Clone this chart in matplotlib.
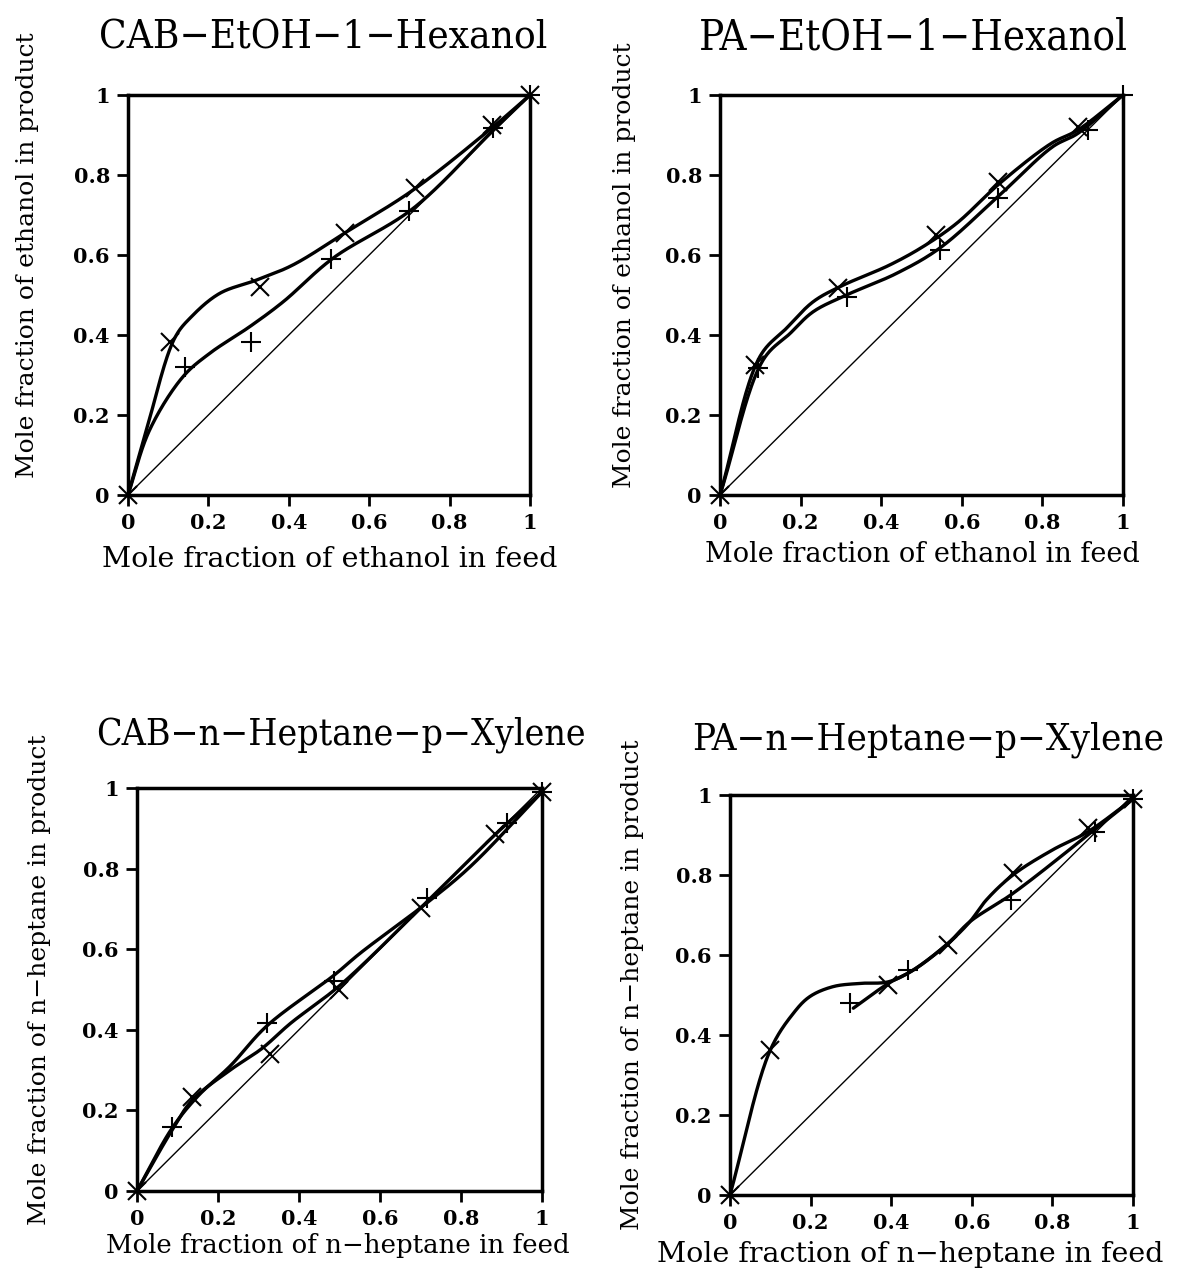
import numpy as np
import matplotlib
matplotlib.use("Agg")
import matplotlib.pyplot as plt

# ---------------- data ----------------
# Panel 1: CAB-EtOH-1-Hexanol
cab_etoh_x_series_feed = [0.0, 0.104, 0.328, 0.54, 0.714, 0.905, 1.0]
cab_etoh_x_series_prod = [0.0, 0.383, 0.52, 0.654, 0.767, 0.925, 1.0]
cab_etoh_p_series_feed = [0.141, 0.307, 0.506, 0.70, 0.909, 1.0]
cab_etoh_p_series_prod = [0.32, 0.383, 0.59, 0.71, 0.917, 1.0]
cab_etoh_fitA_x = [0.0, 0.046, 0.116, 0.158, 0.228, 0.32, 0.41, 0.544, 0.71, 0.909, 1.0]
cab_etoh_fitA_y = [0.0, 0.163, 0.392, 0.446, 0.504, 0.5375, 0.575, 0.658, 0.763, 0.921, 1.0]
cab_etoh_fitB_x = [0.0, 0.054, 0.137, 0.203, 0.303, 0.386, 0.51, 0.71, 0.909, 1.0]
cab_etoh_fitB_y = [0.0, 0.163, 0.296, 0.354, 0.421, 0.483, 0.592, 0.717, 0.9125, 1.0]

# Panel 2: PA-EtOH-1-Hexanol
pa_etoh_x_series_feed = [0.0, 0.087, 0.293, 0.537, 0.69, 0.888]
pa_etoh_x_series_prod = [0.0, 0.325, 0.517, 0.65, 0.783, 0.921]
pa_etoh_p_series_feed = [0.095, 0.314, 0.545, 0.69, 0.913, 1.0]
pa_etoh_p_series_prod = [0.317, 0.496, 0.6125, 0.742, 0.9125, 1.0]
pa_etoh_fitA_x = [0.0, 0.099, 0.165, 0.231, 0.298, 0.421, 0.504, 0.587, 0.694, 0.822, 0.888, 1.0]
pa_etoh_fitA_y = [0.0, 0.346, 0.417, 0.483, 0.521, 0.575, 0.621, 0.679, 0.779, 0.879, 0.9125, 1.0]
pa_etoh_fitB_x = [0.0, 0.107, 0.174, 0.231, 0.314, 0.438, 0.545, 0.694, 0.826, 0.888, 1.0]
pa_etoh_fitB_y = [0.0, 0.3375, 0.404, 0.458, 0.50, 0.554, 0.617, 0.75, 0.871, 0.904, 1.0]

# Panel 3: CAB-n-Heptane-p-Xylene
cab_hep_x_series_feed = [0.0, 0.136, 0.329, 0.498, 0.70, 0.885, 1.0]
cab_hep_x_series_prod = [0.0, 0.234, 0.34, 0.50, 0.703, 0.885, 0.99]
cab_hep_p_series_feed = [0.086, 0.321, 0.486, 0.716, 0.914, 1.0]
cab_hep_p_series_prod = [0.16, 0.416, 0.52, 0.727, 0.913, 0.99]
cab_hep_fitA_x = [0.0, 0.086, 0.136, 0.23, 0.309, 0.379, 0.502, 0.716, 0.885, 1.0]
cab_hep_fitA_y = [0.0, 0.15, 0.225, 0.30, 0.354, 0.416, 0.511, 0.718, 0.885, 0.99]
cab_hep_fitB_x = [0.0, 0.086, 0.15, 0.23, 0.321, 0.486, 0.551, 0.716, 0.823, 1.0]
cab_hep_fitB_y = [0.0, 0.155, 0.235, 0.31, 0.41, 0.535, 0.59, 0.715, 0.805, 0.99]

# Panel 4: PA-n-Heptane-p-Xylene
pa_hep_x_series_feed = [0.0, 0.099, 0.393, 0.541, 0.702, 0.888, 1.0]
pa_hep_x_series_prod = [0.0, 0.3625, 0.525, 0.625, 0.804, 0.917, 0.99]
pa_hep_p_series_feed = [0.298, 0.442, 0.698, 0.905, 1.0]
pa_hep_p_series_prod = [0.479, 0.5625, 0.7375, 0.908, 0.99]
pa_hep_fitA_x = [0.0, 0.099, 0.157, 0.198, 0.256, 0.322, 0.393, 0.455, 0.541, 0.595, 0.636, 0.702, 0.80, 0.888, 1.0]
pa_hep_fitA_y = [0.0, 0.36, 0.454, 0.496, 0.521, 0.529, 0.533, 0.5625, 0.629, 0.683, 0.7375, 0.80, 0.8625, 0.908, 0.99]
pa_hep_fitB_x = [0.306, 0.393, 0.455, 0.541, 0.595, 0.702, 0.893, 1.0]
pa_hep_fitB_y = [0.467, 0.529, 0.5625, 0.629, 0.683, 0.754, 0.904, 0.99]

tick_vals = [0, 0.2, 0.4, 0.6, 0.8, 1]
tick_labels = ["0", "0.2", "0.4", "0.6", "0.8", "1"]

titles = ["CAB\u2212EtOH\u22121\u2212Hexanol", "PA\u2212EtOH\u22121\u2212Hexanol",
          "CAB\u2212n\u2212Heptane\u2212p\u2212Xylene", "PA\u2212n\u2212Heptane\u2212p\u2212Xylene"]
xlabels = ["Mole fraction of ethanol in feed", "Mole fraction of ethanol in feed",
           "Mole fraction of n\u2212heptane in feed", "Mole fraction of n\u2212heptane in feed"]
ylabels = ["Mole fraction of ethanol in product", "Mole fraction of ethanol in product",
           "Mole fraction of n\u2212heptane in product", "Mole fraction of n\u2212heptane in product"]


def smooth(xs, ys, n=40, alpha=0.5):
    """Centripetal Catmull-Rom spline through knots (rendering only)."""
    p = np.column_stack([xs, ys]).astype(float)
    p = np.vstack([2 * p[0] - p[1], p, 2 * p[-1] - p[-2]])
    out = []
    for i in range(1, len(p) - 2):
        P0, P1, P2, P3 = p[i - 1], p[i], p[i + 1], p[i + 2]
        t0 = 0.0
        t1 = t0 + max(np.linalg.norm(P1 - P0), 1e-9) ** alpha
        t2 = t1 + max(np.linalg.norm(P2 - P1), 1e-9) ** alpha
        t3 = t2 + max(np.linalg.norm(P3 - P2), 1e-9) ** alpha
        t = np.linspace(t1, t2, n, endpoint=False)[:, None]
        A1 = (t1 - t) / (t1 - t0) * P0 + (t - t0) / (t1 - t0) * P1
        A2 = (t2 - t) / (t2 - t1) * P1 + (t - t1) / (t2 - t1) * P2
        A3 = (t3 - t) / (t3 - t2) * P2 + (t - t2) / (t3 - t2) * P3
        B1 = (t2 - t) / (t2 - t0) * A1 + (t - t0) / (t2 - t0) * A2
        B2 = (t3 - t) / (t3 - t1) * A2 + (t - t1) / (t3 - t1) * A3
        C = (t2 - t) / (t2 - t1) * B1 + (t - t1) / (t2 - t1) * B2
        out.append(C)
    out.append(p[-2][None, :])
    out = np.vstack(out)
    return out[:, 0], out[:, 1]


W, H = 1177, 1273
fig = plt.figure(figsize=(W / 100, H / 100), dpi=100)

# axes boxes in pixels: left, right, top, bottom
boxes = [(128, 530, 95, 495), (720, 1123, 95, 495), (137, 542, 788, 1191), (730, 1133, 795, 1195)]

panels = [
    (cab_etoh_x_series_feed, cab_etoh_x_series_prod, cab_etoh_p_series_feed, cab_etoh_p_series_prod,
     cab_etoh_fitA_x, cab_etoh_fitA_y, cab_etoh_fitB_x, cab_etoh_fitB_y),
    (pa_etoh_x_series_feed, pa_etoh_x_series_prod, pa_etoh_p_series_feed, pa_etoh_p_series_prod,
     pa_etoh_fitA_x, pa_etoh_fitA_y, pa_etoh_fitB_x, pa_etoh_fitB_y),
    (cab_hep_x_series_feed, cab_hep_x_series_prod, cab_hep_p_series_feed, cab_hep_p_series_prod,
     cab_hep_fitA_x, cab_hep_fitA_y, cab_hep_fitB_x, cab_hep_fitB_y),
    (pa_hep_x_series_feed, pa_hep_x_series_prod, pa_hep_p_series_feed, pa_hep_p_series_prod,
     pa_hep_fitA_x, pa_hep_fitA_y, pa_hep_fitB_x, pa_hep_fitB_y),
]

title_pos = [(323, 38), (913, 38), (341, 735), (928, 740)]
title_size = [29, 30, 26.8, 27.5]
xlabel_y = [560, 555, 1245, 1255]
xlabel_x = [330, 922, 338, 910]
xlabel_size = [20.5, 19.5, 18.7, 20.5]
ylabel_x = [28, 625, 40, 632]
ylabel_c = [255, 265, 980, 985]

serif = ["DejaVu Serif"]

for i, (box, pdata) in enumerate(zip(boxes, panels)):
    l, r, t, b = box
    ax = fig.add_axes([l / W, 1 - b / H, (r - l) / W, (b - t) / H])
    xf, xp, pf, pp, ax_, ay_, bx_, by_ = pdata
    ax.plot([0, 1], [0, 1], color="black", lw=1.0)
    sx, sy = smooth(ax_, ay_)
    ax.plot(sx, sy, color="black", lw=2.4, solid_capstyle="round")
    sx, sy = smooth(bx_, by_)
    ax.plot(sx, sy, color="black", lw=2.4, solid_capstyle="round")
    ax.plot(xf, xp, ls="none", marker="x", ms=13, mew=1.5, color="black", clip_on=False)
    ax.plot(pf, pp, ls="none", marker="+", ms=14, mew=1.5, color="black", clip_on=False)
    ax.set_xlim(0, 1)
    ax.set_ylim(0, 1)
    for s in ax.spines.values():
        s.set_linewidth(2.5)
    ax.set_xticks(tick_vals)
    ax.set_yticks(tick_vals)
    ax.set_xticklabels(tick_labels, family=serif, fontweight="bold", fontsize=15)
    ax.set_yticklabels(tick_labels, family=serif, fontweight="bold", fontsize=15)
    ax.tick_params(direction="out", length=8, width=2, pad=5)
    fig.text(title_pos[i][0] / W, 1 - title_pos[i][1] / H, titles[i], ha="center", va="center",
             family=serif, fontsize=title_size[i], fontstretch="condensed")
    fig.text(xlabel_x[i] / W, 1 - xlabel_y[i] / H, xlabels[i], ha="center", va="center",
             family=serif, fontsize=xlabel_size[i])
    fig.text(ylabel_x[i] / W, 1 - ylabel_c[i] / H, ylabels[i], ha="center", va="center",
             family=serif, fontsize=18, rotation=90)

fig.savefig("out.png", dpi=100, facecolor="white")
